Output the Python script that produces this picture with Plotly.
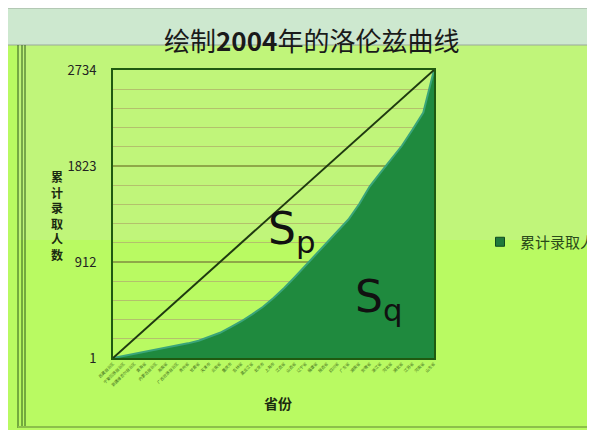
import plotly.graph_objects as go

provinces = ["西藏自治区", "宁夏回族自治区", "新疆维吾尔自治区", "青海省", "内蒙古自治区",
             "海南省", "广西壮族自治区", "贵州省", "甘肃省", "天津市", "云南省",
             "重庆市", "吉林省", "黑龙江省", "北京市", "上海市", "江西省", "山西省",
             "辽宁省", "福建省", "陕西省", "四川省", "广东省", "湖南省", "安徽省",
             "浙江省", "河北省", "湖北省", "江苏省", "河南省", "山东省"]
cumulative = [1, 20, 40, 60, 80, 100, 120, 140, 165, 200, 240, 295, 350, 415, 485,
              570, 665, 770, 880, 990, 1100, 1205, 1315, 1460, 1630, 1760, 1890,
              2015, 2170, 2330, 2734]
equality_x = [provinces[0], provinces[-1]]
equality_y = [1, 2734]
ytick_vals = [1, 912, 1823, 2734]

OFF = 8  # page body margin
W, H = 587, 422
L, R, T, B = 113 - OFF, 434 - OFF, 70 - OFF, 358 - OFF
PW, PH = R - L, B - T


def px(x):
    return (x - OFF - L) / PW


def py(y):
    return (B - (y - OFF)) / PH


fig = go.Figure()
fig.add_trace(go.Scatter(
    x=provinces, y=cumulative, mode="lines", name="累计录取人数",
    line=dict(color="#3aa57a", width=2), fill="tozeroy", fillcolor="#1f8a3e",
    showlegend=False))
fig.add_trace(go.Scatter(
    x=equality_x, y=equality_y, mode="lines", line=dict(color="#1f3a10", width=2),
    showlegend=False, hoverinfo="skip"))
# legend entry (Excel-style small square)
fig.add_trace(go.Scatter(
    x=[None], y=[None], mode="markers", name="累计录取人数",
    marker=dict(symbol="square", size=9, color="#1f7a3a",
                line=dict(color="#0f4a20", width=1)), showlegend=True))

bg = "#b9fa62"
fig.update_layout(
    width=W, height=H,
    paper_bgcolor=bg, plot_bgcolor="rgba(0,0,0,0)",
    margin=dict(l=L, r=W - R, t=T, b=H - B, autoexpand=False),
    font=dict(family="Noto Sans CJK SC, DejaVu Sans", color="#222"),
    showlegend=True,
    legend=dict(xref="container", yref="container", x=(480 - OFF) / W,
                y=1 - (242 - OFF) / H, xanchor="left", yanchor="middle",
                bgcolor="rgba(0,0,0,0)", font=dict(size=15, color="#2a4a1a"),
                itemwidth=30),
    xaxis=dict(type="category", range=[0, len(provinces) - 1], showgrid=False,
               tickangle=-45, tickfont=dict(size=4, color="#3b6a1a"), automargin=False,
               ticks="", showline=True, linecolor="#1f5a10", linewidth=2,
               mirror=True, title=None),
    yaxis=dict(range=[1, 2734], tickvals=ytick_vals, ticktext=[str(v) for v in ytick_vals],
               tickfont=dict(size=13, color="#222"), showgrid=True, automargin=False,
               ticklabelstandoff=12,
               gridcolor="#8fa848", gridwidth=1.5, showline=True, linecolor="#1f5a10",
               linewidth=2, mirror=True, zeroline=False, ticks="",
               minor=dict(dtick=911 / 5, tick0=1, showgrid=True, gridcolor="#b3c16c",
                          gridwidth=1)),
)

# decorations: upper panel tint, title bar, frame lines
fig.add_shape(type="rect", xref="paper", yref="paper",
              x0=px(18), x1=px(604), y0=py(240), y1=py(45),
              fillcolor="#c0f57a", line=dict(width=0), layer="below")
fig.add_shape(type="rect", xref="paper", yref="paper",
              x0=px(7), x1=px(604), y0=py(45), y1=py(8),
              fillcolor="#cde8cf", line=dict(color="#9aa89a", width=1), layer="below")
for xp in (18, 22, 25):
    fig.add_shape(type="line", xref="paper", yref="paper",
                  x0=px(xp), x1=px(xp), y0=py(428), y1=py(45),
                  line=dict(color="#2f5a1a", width=1))
fig.add_shape(type="line", xref="paper", yref="paper",
              x0=px(18), x1=px(604), y0=py(427), y1=py(427),
              line=dict(color="#8cc04a", width=2))

fig.add_annotation(text="绘制<b>2004</b>年的洛伦兹曲线", xref="paper", yref="paper",
                   x=px(311), y=py(40), xanchor="center", yanchor="middle",
                   showarrow=False, font=dict(size=26, color="#1a1a1a"))
fig.add_annotation(text="<b>累<br>计<br>录<br>取<br>人<br>数</b>", xref="paper", yref="paper",
                   x=px(57), y=py(215), xanchor="center", yanchor="middle",
                   showarrow=False, font=dict(size=12, color="#1a2a10"))
fig.add_annotation(text="<b>省份</b>", xref="paper", yref="paper",
                   x=px(278), y=py(403), xanchor="center", yanchor="middle",
                   showarrow=False, font=dict(size=14, color="#1a2a10"))
fig.add_annotation(text="S<sub>p</sub>", x=16.7, y=1200, showarrow=False,
                   font=dict(size=44, color="#111", family="DejaVu Sans"))
fig.add_annotation(text="S<sub>q</sub>", x=24.9, y=560, showarrow=False,
                   font=dict(size=44, color="#111", family="DejaVu Sans"))

fig.write_html("out.html")
